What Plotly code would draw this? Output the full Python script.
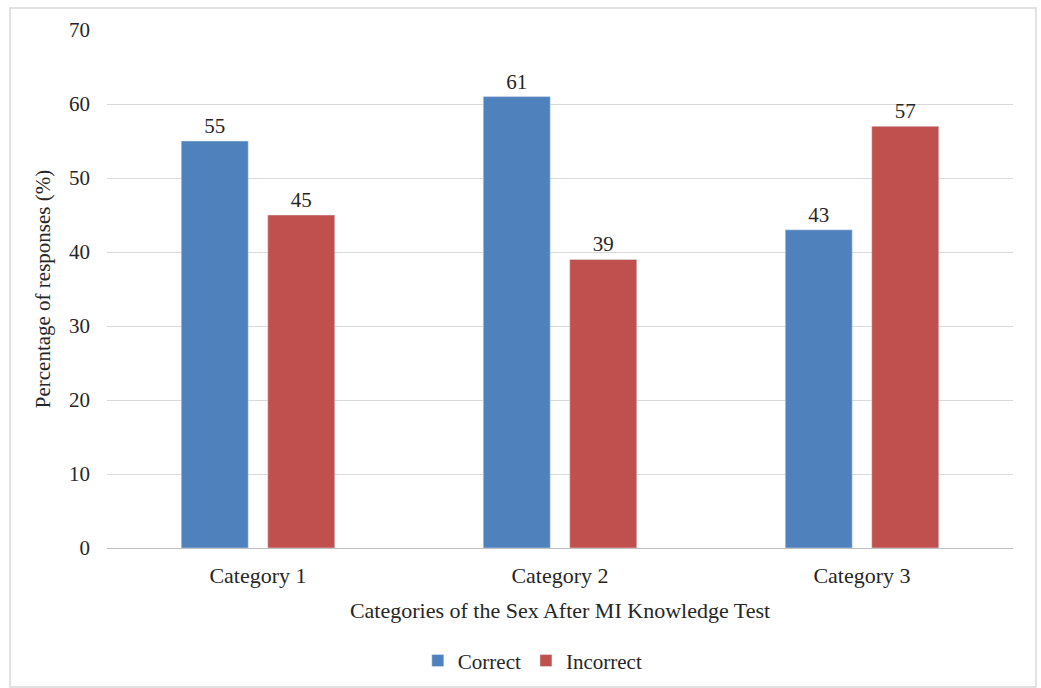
import plotly.graph_objects as go

categories = ["Category 1", "Category 2", "Category 3"]
correct = [55, 61, 43]
incorrect = [45, 39, 57]

FONT = "Liberation Serif, Times New Roman, serif"
TXT = "#262626"
FS = 21

fig = go.Figure()
fig.add_trace(go.Bar(
    name="Correct", x=categories, y=correct,
    marker=dict(color="#4F81BD"),
    text=correct, textposition="outside", cliponaxis=False,
    textfont=dict(family=FONT, size=FS, color=TXT),
))
fig.add_trace(go.Bar(
    name="Incorrect", x=categories, y=incorrect,
    marker=dict(color="#C0504D"),
    text=incorrect, textposition="outside", cliponaxis=False,
    textfont=dict(family=FONT, size=FS, color=TXT),
))

W, H = 1041, 688
L, R, T, B = 107, 28, 30, 140

fig.update_layout(
    width=W, height=H,
    margin=dict(l=L, r=R, t=T, b=B, autoexpand=False),
    paper_bgcolor="white", plot_bgcolor="white",
    barmode="group", bargap=0.427, bargroupgap=0.225,
    font=dict(family=FONT, size=FS, color=TXT),
    showlegend=True,
    legend=dict(orientation="h", x=0.47, xanchor="center", y=-0.218, yanchor="middle",
                font=dict(family=FONT, size=FS, color=TXT),
                itemwidth=30, traceorder="normal"),
    xaxis=dict(
        showgrid=False, showline=True, linecolor="#BFBFBF", linewidth=1,
        ticks="", tickfont=dict(family=FONT, size=22, color=TXT), ticklabelstandoff=8,
        title=dict(text="Categories of the Sex After MI Knowledge Test",
                   font=dict(family=FONT, size=22, color=TXT), standoff=15),
    ),
    yaxis=dict(
        range=[0, 70], dtick=10, showgrid=True, gridcolor="#D9D9D9", gridwidth=1,
        zeroline=False, showline=False, ticks="",
        tickfont=dict(family=FONT, size=FS, color=TXT), ticklabelstandoff=16,
        title=dict(text="Percentage of responses (%)",
                   font=dict(family=FONT, size=FS, color=TXT), standoff=12),
    ),
    shapes=[dict(type="rect", xref="paper", yref="paper",
                 x0=(10 - L) / (W - L - R), x1=(1036 - L) / (W - L - R),
                 y0=(H - B - 687) / (H - T - B), y1=(H - B - 8) / (H - T - B),
                 line=dict(color="#D9D9D9", width=1.5), layer="below")],
)

fig.write_html("out.html")
